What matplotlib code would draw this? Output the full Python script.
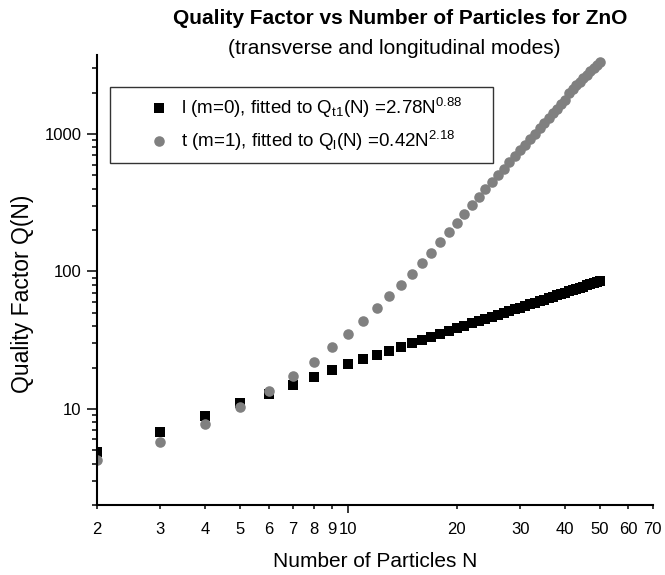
import numpy as np
import matplotlib
matplotlib.use('Agg')
import matplotlib.pyplot as plt
from matplotlib.ticker import LogLocator, FixedLocator, FuncFormatter, NullFormatter

# --- 字体设置 (Arial 风格) ---
plt.rcParams['font.family'] = ['Liberation Sans', 'DejaVu Sans']
plt.rcParams['mathtext.fontset'] = 'custom'
plt.rcParams['mathtext.rm'] = 'Liberation Sans'
plt.rcParams['mathtext.it'] = 'Liberation Sans:italic'
plt.rcParams['mathtext.bf'] = 'Liberation Sans:bold'

# --- 数据 ---
n_particles = [2, 3, 4, 5, 6, 7, 8, 9, 10, 11, 12, 13, 14, 15, 16, 17, 18, 19, 20,
               21, 22, 23, 24, 25, 26, 27, 28, 29, 30, 31, 32, 33, 34, 35, 36, 37, 38,
               39, 40, 41, 42, 43, 44, 45, 46, 47, 48, 49, 50]

q_long = [4.9, 6.85, 8.9, 11.0, 12.85, 15.0, 17.1, 19.1, 21.2, 23.1, 24.8, 26.6, 28.3,
          30.1, 31.8, 33.5, 35.2, 36.9, 38.6, 40.2, 41.9, 43.5, 45.1, 46.7, 48.4, 50.0,
          51.6, 53.1, 54.7, 56.3, 57.8, 59.4, 61.0, 62.5, 64.0, 65.6, 67.1, 68.6, 70.1,
          71.6, 73.1, 74.6, 76.1, 77.6, 79.1, 80.6, 82.1, 83.6, 85.0]

q_trans = [4.28, 5.79, 7.78, 10.3, 13.4, 17.4, 22.0, 28.0, 35.0, 43.5, 54.3, 66.0, 79.5,
           95.5, 115, 137, 164, 194, 225, 264, 303, 348, 395, 445, 500, 558, 622, 690,
           762, 839, 922, 1009, 1102, 1201, 1305, 1415, 1530, 1652, 1781, 2000, 2129,
           2264, 2403, 2548, 2698, 2853, 3013, 3179, 3350]

label_long = r'l (m=0), fitted to Q$_{\mathrm{t1}}$(N) =2.78N$^{\mathrm{0.88}}$'
label_trans = r't (m=1), fitted to Q$_{\mathrm{l}}$(N) =0.42N$^{\mathrm{2.18}}$'

x_minor_ticks = [2, 3, 4, 5, 6, 7, 8, 9, 20, 30, 40, 50, 60, 70]

# --- 画图 ---
fig = plt.figure(figsize=(6.65, 5.75), dpi=100)
ax = fig.add_axes([97 / 665, 1 - 505 / 575, 555.5 / 665, 450 / 575])

ax.plot(n_particles, q_long, linestyle='none', marker='s', markersize=6.8,
        color='black', markeredgewidth=0, label=label_long)
ax.plot(n_particles, q_trans, linestyle='none', marker='o', markersize=7.6,
        color='#808080', markeredgewidth=0, label=label_trans)

ax.set_xscale('log')
ax.set_yscale('log')
ax.set_xlim(2, 70)
ax.set_ylim(2, 3760)

# 只保留左边和下边的坐标轴
for side in ['top', 'right']:
    ax.spines[side].set_visible(False)
for side in ['left', 'bottom']:
    ax.spines[side].set_linewidth(1.5)

# x 轴: 10 为主刻度, 其余为带标签的次刻度
ax.xaxis.set_major_locator(FixedLocator([10]))
ax.xaxis.set_minor_locator(FixedLocator(x_minor_ticks))
int_fmt = FuncFormatter(lambda v, pos: f'{v:g}')
ax.xaxis.set_major_formatter(int_fmt)
ax.xaxis.set_minor_formatter(int_fmt)
ax.tick_params(axis='x', which='major', direction='out', length=6.0, width=1.1,
               pad=6.5, labelsize=12)
ax.tick_params(axis='x', which='minor', direction='out', length=3.1, width=1.1,
               pad=9.4, labelsize=12)

# y 轴
ax.yaxis.set_major_locator(LogLocator(base=10))
ax.yaxis.set_minor_locator(LogLocator(base=10, subs=np.arange(2, 10)))
ax.yaxis.set_major_formatter(int_fmt)
ax.yaxis.set_minor_formatter(NullFormatter())
ax.tick_params(axis='y', which='major', direction='out', length=7.2, width=1.1,
               pad=3.8, labelsize=12)
ax.tick_params(axis='y', which='minor', direction='out', length=3.6, width=1.1)

ax.set_xlabel('Number of Particles N', fontsize=15)
ax.set_ylabel('Quality Factor Q(N)', fontsize=16.5)
ax.xaxis.set_label_coords(0.5, -(552 - 505) / 450)
ax.yaxis.set_label_coords(-(97 - 34) / 555.5, 0.47)

# 标题
fig.text(400 / 665, 1 - 18 / 575, 'Quality Factor vs Number of Particles for ZnO',
         ha='center', va='center', fontsize=15, fontweight='bold')
fig.text(394 / 665, 1 - 49 / 575, '(transverse and longitudinal modes)',
         ha='center', va='center', fontsize=15)

# 图例
leg = ax.legend(loc='upper left', mode='expand',
                bbox_to_anchor=(110 / 665, 1 - 86.7 / 575 - 0.01, 383 / 665, 0.01),
                bbox_transform=fig.transFigure, borderaxespad=0,
                fontsize=13.5, frameon=True, fancybox=False, borderpad=0.5,
                labelspacing=0.48, handlelength=4.27, handletextpad=-0.98,
                numpoints=1)
leg.get_frame().set_edgecolor('black')
leg.get_frame().set_linewidth(1.0)

plt.savefig('out.png', dpi=100)
plt.close(fig)
